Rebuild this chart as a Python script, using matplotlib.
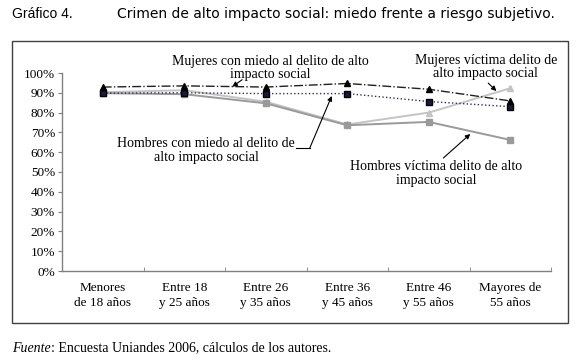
import matplotlib.pyplot as plt
from matplotlib.patches import Rectangle

# categories and values (%)
categorias = ['Menores\nde 18 años', 'Entre 18\ny 25 años', 'Entre 26\ny 35 años',
              'Entre 36\ny 45 años', 'Entre 46\ny 55 años', 'Mayores de\n55 años']
mujeres_miedo = [92.9, 93.5, 92.9, 94.7, 91.8, 85.9]
hombres_miedo = [89.8, 90.0, 89.6, 89.6, 85.6, 83.0]
hombres_victima = [89.8, 89.3, 84.7, 73.6, 75.3, 66.2]
mujeres_victima = [90.3, 91.3, 85.5, 74.0, 80.0, 92.3]
yticks = [0, 10, 20, 30, 40, 50, 60, 70, 80, 90, 100]

plt.rcParams['font.family'] = ['Liberation Serif', 'DejaVu Serif']

fig = plt.figure(figsize=(5.8, 3.61), dpi=100)
ax = fig.add_axes([62/580, 1-271/361, (551-62)/580, (271-73)/361])

x = list(range(len(categorias)))
ax.plot(x, mujeres_victima, color='#c4c4c4', lw=1.4, marker='^', ms=5, mfc='#c4c4c4', mec='#c4c4c4', zorder=2)
ax.plot(x, hombres_victima, color='#9a9a9a', lw=1.4, marker='s', ms=4.5, mfc='#9a9a9a', mec='#9a9a9a', zorder=2)
ax.plot(x, hombres_miedo, color='#303050', lw=1.0, ls=':', marker='s', ms=4.5, mfc='#1a1a3a', mec='black', zorder=3)
ax.plot(x, mujeres_miedo, color='#202020', lw=1.0, ls='-.', marker='^', ms=5, mfc='black', mec='black', zorder=3)

ax.set_xlim(-0.5, len(categorias) - 0.5)
ax.set_ylim(0, 100)
ax.set_xticks(x)
ax.set_xticklabels(categorias, fontsize=9.5, linespacing=1.3)
ax.tick_params(axis='x', length=0, pad=8)
ax.set_xticks([i - 0.5 for i in range(len(categorias) + 1)], minor=True)
ax.tick_params(axis='x', which='minor', direction='in', length=3, color='#808080')
ax.set_yticks(yticks)
ax.set_yticklabels([f'{v}%' for v in yticks], fontsize=9.5)
ax.tick_params(axis='y', direction='out', length=3, color='#808080', pad=2)
for s in ['top', 'right']:
    ax.spines[s].set_visible(False)
for s in ['left', 'bottom']:
    ax.spines[s].set_color('#808080')
    ax.spines[s].set_linewidth(1.0)

fs = 10
arr = dict(arrowstyle='-|>', color='black', lw=0.8, mutation_scale=7, shrinkA=0, shrinkB=0)
ax.text(2.06, 95.8, 'Mujeres con miedo al delito de alto\nimpacto social', ha='center', va='bottom',
        fontsize=fs, linespacing=1.0)
ax.annotate('', xy=(1.59, 93.1), xytext=(1.71, 96.6), arrowprops=arr)

ax.text(4.7, 96.5, 'Mujeres víctima delito de\nalto impacto social', ha='center', va='bottom',
        fontsize=fs, linespacing=1.0)
ax.annotate('', xy=(4.83, 90.9), xytext=(4.73, 94.9), arrowprops=arr)

ax.text(1.27, 67.5, 'Hombres con miedo al delito de\nalto impacto social', ha='center', va='top',
        fontsize=fs, linespacing=1.05)
ax.plot([2.37, 2.54], [62.1, 62.1], color='black', lw=0.8)
ax.annotate('', xy=(2.81, 88.4), xytext=(2.54, 62.1), arrowprops=arr)

ax.text(4.09, 56.0, 'Hombres víctima delito de alto\nimpacto social', ha='center', va='top',
        fontsize=fs, linespacing=1.05)
ax.annotate('', xy=(4.51, 69.2), xytext=(4.18, 57.1), arrowprops=arr)

# frame around chart
fig.patches.append(Rectangle((12/580, 1-323/361), (568-12)/580, (323-41)/361,
                             transform=fig.transFigure, fill=False, ec='#404040', lw=1.0))

fig.text(12/580, 1-14/361, 'Gráfico 4.', family='Liberation Sans', fontsize=10, va='center')
fig.text(117/580, 1-14/361, 'Crimen de alto impacto social: miedo frente a riesgo subjetivo.',
         family='DejaVu Sans', fontsize=10, va='center')
t1 = fig.text(12/580, 1-348/361, 'Fuente', style='italic', fontsize=10, va='center')
fig.canvas.draw()
bb = t1.get_window_extent()
fig.text(bb.x1/580 + 0.001, 1-348/361, ': Encuesta Uniandes 2006, cálculos de los autores.',
         fontsize=10, va='center')

fig.savefig('out.png', dpi=100)
